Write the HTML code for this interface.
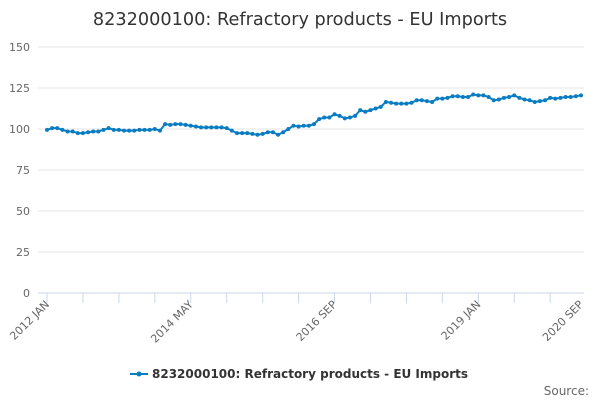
<!DOCTYPE html>
<html><head><meta charset="utf-8"><style>
body{margin:0;background:#fff;font-family:"Liberation Sans","DejaVu Sans",sans-serif}
</style></head><body>
<svg id="chart" width="600" height="400" xmlns="http://www.w3.org/2000/svg" font-family="DejaVu Sans, Liberation Sans, sans-serif">
<text x="300" y="25" text-anchor="middle" font-size="17.7" fill="#333">8232000100: Refractory products - EU Imports</text>
<g id="grid"></g><g id="xaxis"></g><g id="series"></g>
<g>
<line x1="130" y1="374" x2="148" y2="374" stroke="#0a7dc2" stroke-width="2"/>
<circle cx="139" cy="374" r="2.5" fill="#0a7dc2"/>
<text x="152" y="378" font-size="12" font-weight="bold" fill="#333">8232000100: Refractory products - EU Imports</text>
</g>
<text x="589" y="395" text-anchor="end" font-size="12" fill="#666">Source:</text>
</svg>
<script>
const yTicks=[0,25,50,75,100,125,150];
const xLabels=["2012 JAN","2014 MAY","2016 SEP","2019 JAN","2020 SEP"];
const xLabelIdx=[0,28,56,84,104];
const values=[99.5,100.5,100.5,99.5,98.5,98.5,97.5,97.5,98,98.5,98.5,99.5,
100.5,99.5,99.5,99,99,99,99.5,99.5,99.5,100,99,103,
102.5,103,103,102.5,102,101.5,101,101,101,101,101,100.5,
99,97.5,97.5,97.5,97,96.5,97,98,98,96.5,98,100,
102,101.5,102,102,103,106,107,107,109,108,106.5,107,
108,111.5,110.5,111.5,112.5,113.5,116.5,116,115.5,115.5,115.5,116,
117.5,117.5,117,116.5,118.5,118.5,119,120,120,119.5,119.5,121,
120.5,120.5,119.5,117.5,118,119,119.5,120.5,119,118,117.5,116.5,
117,117.5,119,118.5,119,119.5,119.5,120,120.5];
const NS="http://www.w3.org/2000/svg";
const x0=47,x1=581,y0=293,y1=47;
const xs=i=>x0+i*(x1-x0)/(values.length-1);
const ys=v=>y0-(v/150)*(y0-y1);
function mk(t,a,p){const e=document.createElementNS(NS,t);for(const k in a)e.setAttribute(k,a[k]);p.appendChild(e);return e;}
const grid=document.getElementById('grid');
yTicks.forEach(v=>{
 const l=mk('line',{x1:38,x2:584,y1:ys(v),y2:ys(v),stroke:v===0?'#ccd6eb':'#e6e6e6'},grid);
 
 
 const t=mk('text',{x:30,y:ys(v)+4,'text-anchor':'end','font-size':11,fill:'#666'},grid);t.textContent=v;
 
 
});
const xa=document.getElementById('xaxis');
for(let i=0;i<values.length;i+=7){mk('line',{x1:xs(i),x2:xs(i),y1:293,y2:303,stroke:'#ccd6eb'},xa);}
xLabels.forEach((s,k)=>{
 const x=xs(xLabelIdx[k]);
 const t=mk('text',{x:x+3,y:305,'text-anchor':'end','font-size':11,fill:'#666',transform:`rotate(-45 ${x+3} 305)`},xa);
 t.textContent=s;
 
 
});
const sg=document.getElementById('series');
const p=mk('polyline',{points:values.map((v,i)=>xs(i)+','+ys(v)).join(' '),fill:'none',stroke:'#0a7dc2','stroke-width':2},sg);


values.forEach((v,i)=>{
 const c=mk('circle',{cx:xs(i),cy:ys(v),r:2,fill:'#0a7dc2'},sg);
 
 
});
</script>
</body></html>
